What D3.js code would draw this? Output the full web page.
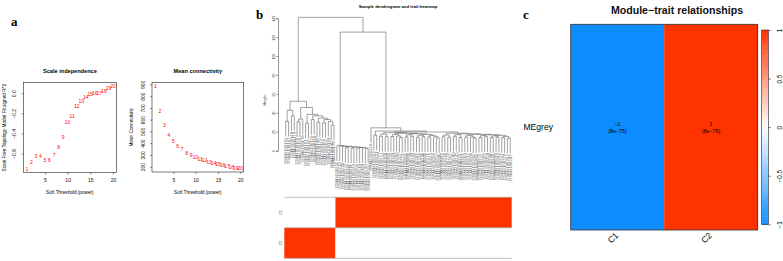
<!DOCTYPE html>
<html>
<head>
<meta charset="utf-8">
<script src="https://cdn.jsdelivr.net/npm/d3@7"></script>
<style>
  body { margin: 0; background: #fff; }
  svg { display: block; font-family: "Liberation Sans", Arial, Helvetica, sans-serif; }
</style>
</head>
<body>
<svg id="fig" width="783" height="261"></svg>
<script>
// ---------------- data ----------------
// panel a : soft threshold picking
const powers = [1, 2, 3, 4, 5, 6, 7, 8, 9, 10, 11, 12, 13, 14, 15, 16, 17, 18, 19, 20];
const scaleFitR2 = [-0.756, -0.69, -0.63, -0.63, -0.67, -0.67, -0.62, -0.54, -0.44, -0.29,
                    -0.23, -0.13, -0.08, -0.04, -0.006, 0.0, 0.003, 0.024, 0.047, 0.074];
const meanK = [888, 671, 551, 472, 420, 377, 348, 317, 297, 280,
               263, 251, 240, 226, 220, 209, 203, 197, 189, 183];
const r2Ticks = [-0.6, -0.4, -0.2, 0.0];
const kTicks = [200, 300, 400, 500, 600, 700, 800, 900];
const powerTicks = [5, 10, 15, 20];

// panel b : sample dendrogram + trait heatmap
const sampleNames = [
  "GSM4108152","GSM4108167","GSM4108149","GSM4108173","GSM4108155","GSM4108160","GSM4108178","GSM4108151","GSM4108164","GSM4108170",
  "GSM4108158","GSM4108146","GSM4108175","GSM4108162","GSM4108157","GSM4108169","GSM4108148","GSM4108176","GSM4108201","GSM4108215",
  "GSM4108208","GSM4108222","GSM4108197","GSM4108211","GSM4108226","GSM4108204","GSM4108219","GSM4108193","GSM4108230","GSM4108212",
  "GSM4108240","GSM4108263","GSM4108251","GSM4108277","GSM4108244","GSM4108258","GSM4108285","GSM4108236","GSM4108269","GSM4108292",
  "GSM4108247","GSM4108273","GSM4108255","GSM4108288","GSM4108239","GSM4108266","GSM4108281","GSM4108249","GSM4108295","GSM4108260",
  "GSM4108271","GSM4108243","GSM4108286","GSM4108254","GSM4108298","GSM4108267","GSM4108238","GSM4108279","GSM4108252","GSM4108290",
  "GSM4108245","GSM4108275","GSM4108261","GSM4108283","GSM4108237","GSM4108268","GSM4108294","GSM4108256","GSM4108272","GSM4108242",
  "GSM4108287","GSM4108259","GSM4108299","GSM4108265","GSM4108250","GSM4108280","GSM4108241","GSM4108276","GSM4108262","GSM4108297"
];
const sampleGroup = [
  "C2","C2","C2","C2","C2","C2","C2","C2","C2","C2",
  "C2","C2","C2","C2","C2","C2","C2","C2","C1","C1",
  "C1","C1","C1","C1","C1","C1","C1","C1","C1","C1",
  "C1","C1","C1","C1","C1","C1","C1","C1","C1","C1",
  "C1","C1","C1","C1","C1","C1","C1","C1","C1","C1",
  "C1","C1","C1","C1","C1","C1","C1","C1","C1","C1",
  "C1","C1","C1","C1","C1","C1","C1","C1","C1","C1",
  "C1","C1","C1","C1","C1","C1","C1","C1","C1","C1"
];
const traitRows = ["C1", "C2"];
const heightTicks = [0, 20, 40, 60, 80, 100, 120, 140];

// merge tree: [left, right, height], leaves = sample index (1-based)
const clusterL = [[[1, 2, 31], [3, 4, 37], 42.8],
  [[[5, 6, 30.6], 7, 33.4],
   [[8, 9, 28.9], [[10, 11, 33.0], [[12, 13, 30.0], [[14, 15, 29.5], [16, [17, 18, 27.0], 31.0], 33.0], 34.5], 36.9], 38.4],
   45.7],
  52.3];
const clusterM = [19, [20, [21, [[22, 23, 3.2], [[24, 25, 2.8], [[26, 27, 3.0], [28, [29, 30, 2.5], 3.1], 3.4], 3.8], 4.2], 4.6], 5.0], 5.3];
const clusterB1 = [[[34, 35, 15.2], [36, 37, 14.8], 17.6], [[[38, 39, 15.0], [40, [41, 42, 13.9], 15.5], 17.0],
  [[[43, 44, 14.6], [45, 46, 15.1], 16.8], [[[47, 48, 14.2], [49, 50, 14.9], 16.4],
  [[51, 52, 14.5], [53, [54, 55, 13.6], 14.8], 16.0], 17.2], 17.9], 18.4], 19.1];
const clusterB2 = [[[56, 57, 14.7], [58, 59, 14.3], 16.5], [[[60, 61, 15.2], [62, 63, 14.0], 16.9],
  [[[64, 65, 14.4], [66, [67, 68, 13.5], 14.6], 16.2], [[[69, 70, 14.1], [71, 72, 14.8], 15.9],
  [[[73, 74, 13.8], [75, 76, 14.4], 15.6], [[77, 78, 13.9], [79, 80, 13.2], 15.1], 16.3], 16.8], 17.3], 17.8], 18.5];
const clusterB = [31, [[32, 33, 16.5], [clusterB1, clusterB2, 19.8], 20.8], 24.2];
const sampleTree = [clusterL, [clusterM, clusterB, 125.4], 141];

// panel c : module-trait relationships
const moduleNames = ["MEgrey"];
const traitNames = ["C1", "C2"];
const moduleTraitCor = [[-1, 1]];
const moduleTraitP = [["8e\u221275", "8e\u221275"]];
const legendTicks = [-1, -0.5, 0, 0.5, 1];

// ---------------- drawing ----------------
const svg = d3.select("#fig");
const serif = "'Liberation Serif', 'Times New Roman', serif";
const fmtMinus = s => String(s).replace("-", "\u2212");

// panel letters
[["a", 11, 25.5], ["b", 256, 18.5], ["c", 523, 18.5]].forEach(([t, x, y]) => {
    svg.append("text").attr("x", x).attr("y", y)
        .attr("font-family", serif).attr("font-weight", "bold")
        .attr("font-size", 13).text(t);
});

// ===== panel a =====
function rRange(vals) {
    const [lo, hi] = d3.extent(vals);
    const pad = (hi - lo) * 0.04;
    return [lo - pad, hi + pad];
}

function softPlot(o) {
    const g = svg.append("g");
    const x = d3.scaleLinear().domain(rRange(powers)).range([o.left, o.right]);
    const y = d3.scaleLinear().domain(rRange(o.values)).range([o.bottom, o.top]);

    g.append("g")
        .attr("transform", `translate(0,${o.bottom})`)
        .call(d3.axisBottom(x).tickValues(powerTicks).tickSize(2).tickPadding(4.3))
        .call(a => a.select(".domain").remove())
        .call(a => a.selectAll("line").attr("stroke", "#222").attr("stroke-width", 0.5))
        .call(a => a.selectAll("text").attr("font-size", 5).attr("fill", "#111"));

    g.append("g")
        .attr("transform", `translate(${o.left},0)`)
        .call(d3.axisLeft(y).tickValues(o.yTicks).tickFormat(o.fmt).tickSize(2))
        .call(a => a.select(".domain").remove())
        .call(a => a.selectAll("line").attr("stroke", "#222").attr("stroke-width", 0.5))
        .call(a => a.selectAll("text")
            .attr("x", 0).attr("dy", 0)
            .attr("text-anchor", "middle")
            .attr("transform", "translate(-7.4,0) rotate(-90)")
            .attr("font-size", 5).attr("fill", "#111"));

    g.append("rect")
        .attr("x", o.left).attr("y", o.top)
        .attr("width", o.right - o.left).attr("height", o.bottom - o.top)
        .attr("fill", "none").attr("stroke", "#222").attr("stroke-width", 0.6);

    g.selectAll("text.pt")
        .data(powers)
        .join("text")
        .attr("class", "pt")
        .attr("x", d => x(d))
        .attr("y", (d, i) => y(o.values[i]))
        .attr("dy", "0.36em")
        .attr("text-anchor", "middle")
        .attr("fill", "#ff0000")
        .attr("font-size", 5)
        .text(d => d);

    g.append("text")
        .attr("x", (o.left + o.right) / 2).attr("y", 73)
        .attr("text-anchor", "middle").attr("font-weight", "bold")
        .attr("font-size", 5.6).text(o.title);

    g.append("text")
        .attr("x", (o.left + o.right) / 2).attr("y", 193.6)
        .attr("text-anchor", "middle").attr("font-size", 4.7)
        .text("Soft Threshold (power)");

    g.append("text")
        .attr("transform", `translate(${o.ylabX},${(o.top + o.bottom) / 2}) rotate(-90)`)
        .attr("text-anchor", "middle").attr("font-size", 4.7)
        .text(o.ylab);
}

softPlot({
    left: 23.4, right: 116.4, top: 82.5, bottom: 172.5,
    values: scaleFitR2, yTicks: r2Ticks, fmt: d3.format(".1f"),
    title: "Scale independence", ylab: "Scale Free Topology Model Fit,signed R^2", ylabX: 5.8
});
softPlot({
    left: 152, right: 243.7, top: 82.5, bottom: 172,
    values: meanK, yTicks: kTicks, fmt: d3.format("d"),
    title: "Mean connectivity", ylab: "Mean Connectivity", ylabX: 133.4
});

// ===== panel b =====
const bx = d3.scaleBand().domain(sampleNames).range([284.3, 511.7]);
const by = d3.scaleLinear().domain([0, 140]).range([150.7, 18.3]);
const hang = 16;
const gb = svg.append("g");

gb.append("text")
    .attr("x", 398).attr("y", 8)
    .attr("text-anchor", "middle").attr("font-weight", "bold")
    .attr("font-size", 4.3).text("Sample dendrogram and trait heatmap");

gb.append("g")
    .attr("transform", "translate(278,0)")
    .call(d3.axisLeft(by).tickValues(heightTicks).tickSize(2))
    .call(a => a.select(".domain").attr("stroke", "#333").attr("stroke-width", 0.5))
    .call(a => a.selectAll("line").attr("stroke", "#333").attr("stroke-width", 0.5))
    .call(a => a.selectAll("text")
        .attr("x", 0).attr("dy", 0)
        .attr("text-anchor", "middle")
        .attr("transform", "translate(-3.2,0) rotate(-90)")
        .attr("font-size", 3.5).attr("fill", "#333"));

gb.append("text")
    .attr("transform", "translate(266,100) rotate(-90)")
    .attr("text-anchor", "middle").attr("font-size", 3.8).attr("fill", "#333")
    .text("Height");

// build the tree from the merge arrays
function buildNode(d) {
    if (typeof d === "number") {
        const name = sampleNames[d - 1];
        return { leaf: true, name, x: bx(name) + bx.bandwidth() / 2 };
    }
    const left = buildNode(d[0]), right = buildNode(d[1]);
    return { leaf: false, left, right, h: d[2], x: (left.x + right.x) / 2 };
}
const treeRoot = buildNode(sampleTree);

const segs = [];
const leafTips = [];
(function walk(n) {
    if (n.leaf) return;
    [n.left, n.right].forEach(c => {
        const bottom = c.leaf ? n.h - hang : c.h;
        segs.push([c.x, by(n.h), c.x, by(bottom)]);
        if (c.leaf) leafTips.push({ name: c.name, x: c.x, y: by(bottom) });
        walk(c);
    });
    segs.push([n.left.x, by(n.h), n.right.x, by(n.h)]);
})(treeRoot);

gb.append("g")
    .selectAll("line")
    .data(segs)
    .join("line")
    .attr("x1", d => d[0]).attr("y1", d => d[1])
    .attr("x2", d => d[2]).attr("y2", d => d[3])
    .attr("stroke", "#555")
    .attr("stroke-width", 0.55);

gb.append("g")
    .selectAll("text")
    .data(leafTips)
    .join("text")
    .attr("transform", d => `translate(${d.x + 1.4},${d.y + 1})rotate(-90)`)
    .attr("text-anchor", "end")
    .attr("font-size", 4.3)
    .attr("fill", "#666")
    .text(d => d.name);

// trait colour rows: one rect per run of equal samples
const rowY = d3.scaleBand().domain(traitRows).range([197.3, 258.3]);
const runs = [];
traitRows.forEach(t => {
    sampleNames.forEach((s, i) => {
        const on = sampleGroup[i] === t;
        const last = runs[runs.length - 1];
        if (last && last.t === t && last.on === on) last.end = s;
        else runs.push({ t, on, start: s, end: s });
    });
});

gb.append("g")
    .selectAll("rect")
    .data(runs)
    .join("rect")
    .attr("x", d => bx(d.start))
    .attr("y", d => rowY(d.t))
    .attr("width", d => bx(d.end) + bx.bandwidth() - bx(d.start))
    .attr("height", rowY.bandwidth())
    .attr("fill", d => d.on ? "#ff3300" : "#ffffff");

gb.append("g")
    .selectAll("line")
    .data([197.3, 227.8, 258.3])
    .join("line")
    .attr("x1", 284.3).attr("x2", 511.7)
    .attr("y1", d => d).attr("y2", d => d)
    .attr("stroke", "#999").attr("stroke-width", 0.6);

gb.append("g")
    .selectAll("text")
    .data(traitRows)
    .join("text")
    .attr("transform", d => `translate(281.5,${rowY(d) + rowY.bandwidth() / 2}) rotate(-90)`)
    .attr("text-anchor", "middle")
    .attr("font-size", 3.6).attr("fill", "#333")
    .text(d => d);

// ===== panel c =====
const gc = svg.append("g");
const color = d3.scaleLinear().domain([-1, 0, 1]).range(["#0d8cff", "#ffffff", "#ff3300"]);
const cx = d3.scaleBand().domain(traitNames).range([570.7, 757.7]);
const cy = d3.scaleBand().domain(moduleNames).range([24.3, 230]);

gc.append("text")
    .attr("x", 677).attr("y", 13.8)
    .attr("text-anchor", "middle").attr("font-weight", "bold")
    .attr("font-size", 10.6).attr("fill", "#111")
    .text("Module\u2212trait relationships");

const mtCells = [];
moduleNames.forEach((m, i) => traitNames.forEach((t, j) =>
    mtCells.push({ m, t, r: moduleTraitCor[i][j], p: moduleTraitP[i][j] })));

gc.selectAll("rect.cell")
    .data(mtCells)
    .join("rect")
    .attr("class", "cell")
    .attr("x", d => cx(d.t)).attr("y", d => cy(d.m))
    .attr("width", cx.bandwidth() + 0.3).attr("height", cy.bandwidth())
    .attr("fill", d => color(d.r));

gc.append("rect")
    .attr("x", 570.7).attr("y", 24.3)
    .attr("width", 187).attr("height", 205.7)
    .attr("fill", "none").attr("stroke", "#333").attr("stroke-width", 0.8);

const cellTxt = gc.selectAll("g.ctxt")
    .data(mtCells)
    .join("g")
    .attr("class", "ctxt")
    .attr("transform", d => `translate(${cx(d.t) + cx.bandwidth() / 2},${cy(d.m) + cy.bandwidth() / 2})`);
cellTxt.append("text")
    .attr("y", -1.5).attr("text-anchor", "middle").attr("font-size", 5.3)
    .text(d => fmtMinus(d.r));
cellTxt.append("text")
    .attr("y", 5.4).attr("text-anchor", "middle").attr("font-size", 5.3)
    .text(d => `(${d.p})`);

gc.selectAll("text.rowlab")
    .data(moduleNames)
    .join("text")
    .attr("class", "rowlab")
    .attr("x", 553).attr("y", d => cy(d) + cy.bandwidth() / 2 + 3)
    .attr("text-anchor", "end").attr("font-size", 8.6)
    .text(d => d);

gc.selectAll("text.collab")
    .data(traitNames)
    .join("text")
    .attr("class", "collab")
    .attr("transform", d => `translate(${cx(d) + cx.bandwidth() / 2 + 1.5},236) rotate(-45)`)
    .attr("text-anchor", "end").attr("font-size", 8.6)
    .text(d => d);

// colour legend
const ly = d3.scaleLinear().domain([-1, 1]).range([224.3, 30]);
const steps = d3.range(-1, 1, 0.02);
gc.append("g")
    .selectAll("rect")
    .data(steps)
    .join("rect")
    .attr("x", 761.7).attr("width", 6.6)
    .attr("y", d => ly(d + 0.02)).attr("height", Math.abs(ly(0) - ly(0.02)) + 0.3)
    .attr("fill", d => color(d + 0.01));

gc.append("rect")
    .attr("x", 761.7).attr("y", 30).attr("width", 6.6).attr("height", 194.3)
    .attr("fill", "none").attr("stroke", "#222").attr("stroke-width", 0.6);

gc.append("g")
    .attr("transform", "translate(768.3,0)")
    .call(d3.axisRight(ly).tickValues(legendTicks).tickSize(2.5).tickFormat(d => fmtMinus(d)))
    .call(a => a.select(".domain").remove())
    .call(a => a.selectAll("line").attr("stroke", "#222").attr("stroke-width", 0.6))
    .call(a => a.selectAll("text")
        .attr("x", 0).attr("dy", 0)
        .attr("text-anchor", "middle")
        .attr("transform", "translate(13.2,0) rotate(-90)")
        .attr("font-size", 6.4).attr("fill", "#111"));
</script>
</body>
</html>
